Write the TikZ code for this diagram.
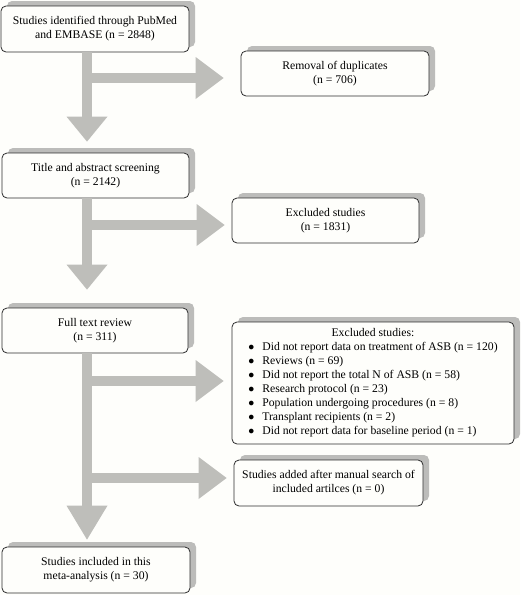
\documentclass[tikz,border=0pt]{standalone}
\usepackage{fontspec}
\setmainfont{Liberation Serif}
\usetikzlibrary{arrows.meta,shadows}
\definecolor{arrowgray}{RGB}{190,190,186}
\definecolor{shadowgray}{RGB}{188,188,186}
\definecolor{boxline}{RGB}{45,45,45}
\definecolor{bg}{RGB}{254,254,251}
\begin{document}
\begin{tikzpicture}[x=1pt,y=-1pt,
  box/.style={draw=boxline, line width=0.8pt, rounded corners=5pt, fill=bg,
    align=center, inner sep=0pt, font=\fontsize{11.7}{14}\selectfont,
    general shadow={fill=shadowgray, shadow xshift=6pt, shadow yshift=5pt}},
  flow/.style={draw=arrowgray, line width=10pt},
  rhead/.style={-{Triangle[width=42pt,length=28pt,line width=0pt,fill=arrowgray]}},
]
\useasboundingbox (0,0) rectangle (520,595);
\fill[bg] (0,0) rectangle (520,595);

\node[box, minimum width=188pt, minimum height=46pt] (b1) at (95,29)
  {Studies identified through PubMed\\and EMBASE (n = 2848)};
\node[box, minimum width=187pt, minimum height=45pt] (b2) at (95.5,175.5)
  {Title and abstract screening\\(n = 2142)};
\node[box, minimum width=186pt, minimum height=45pt] (b3) at (95,330.5)
  {Full text review\\(n = 311)};
\node[box, minimum width=188pt, minimum height=46pt] (b4) at (96,570)
  {Studies included in this\\meta-analysis (n = 30)};
\node[box, minimum width=188pt, minimum height=45pt] (r1) at (335,73.5)
  {Removal of duplicates\\(n = 706)};
\node[box, minimum width=187pt, minimum height=45pt] (r2) at (325.5,220.5)
  {Excluded studies\\(n = 1831)};
\node[box, minimum width=282pt, minimum height=122pt] (r3) at (373,383)
  {\begin{tabular}{@{}l@{\hspace{8pt}}l@{}}
   \multicolumn{2}{c}{Excluded studies:}\\
   $\bullet$ & Did not report data on treatment of ASB (n = 120)\\
   $\bullet$ & Reviews (n = 69)\\
   $\bullet$ & Did not report the total N of ASB (n = 58)\\
   $\bullet$ & Research protocol (n = 23)\\
   $\bullet$ & Population undergoing procedures (n = 8)\\
   $\bullet$ & Transplant recipients (n = 2)\\
   $\bullet$ & Did not report data for baseline period (n = 1)
   \end{tabular}};
\node[box, minimum width=189pt, minimum height=46pt] (r4) at (328.5,483)
  {Studies added after manual search of\\included artilces (n = 0)};

\coordinate (tx) at (87,0);
\coordinate (j1) at (87,78);
\coordinate (j2) at (87,225);
\coordinate (j3) at (87,381);
\coordinate (j4) at (87,478);

% branches
\draw[flow, rhead, shorten >=17pt] (j1) -- (j1 -| r1.west);
\draw[flow, rhead, shorten >=7pt] (j2) -- (j2 -| r2.west);
\draw[flow, rhead, shorten >=8pt] (j3) -- (j3 -| r3.west);
\draw[flow, rhead, shorten >=7pt] (j4) -- (j4 -| r4.west);
% trunk
\draw[flow, -{Triangle[width=41pt,length=25pt,line width=0pt,fill=arrowgray]}, shorten >=11pt]
  (b1.south -| tx) -- (b2.north -| tx);
\draw[flow, -{Triangle[width=41pt,length=25pt,line width=0pt,fill=arrowgray]}, shorten >=18pt]
  (b2.south -| tx) -- (b3.north -| tx);
\draw[flow, -{Triangle[width=41pt,length=34pt,line width=0pt,fill=arrowgray]}, shorten >=7pt]
  (b3.south -| tx) -- (b4.north -| tx);
\end{tikzpicture}
\end{document}
